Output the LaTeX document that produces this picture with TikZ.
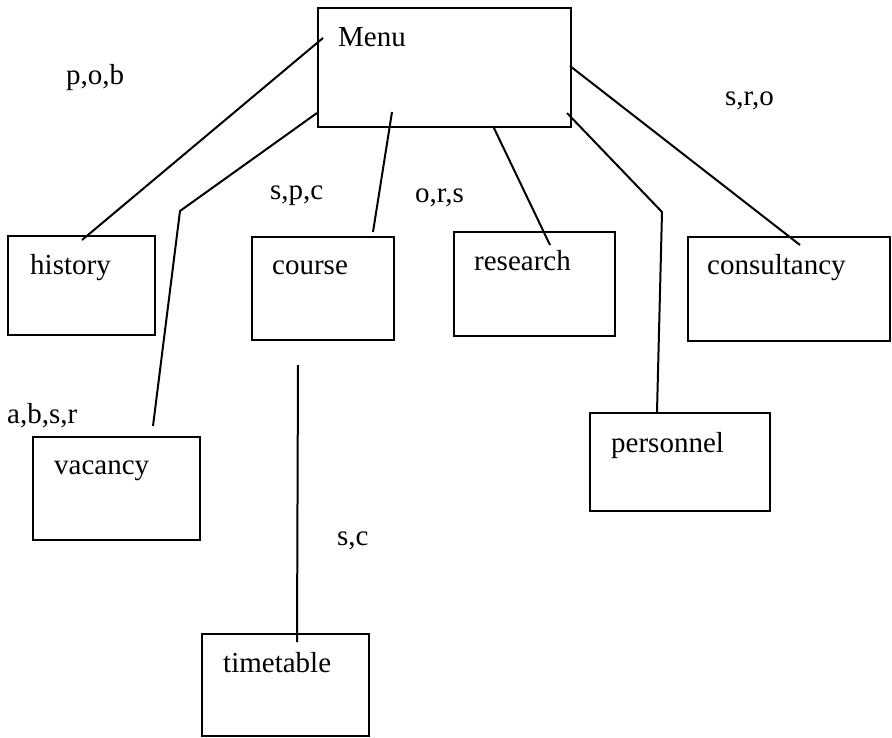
\documentclass[tikz,border=0pt]{standalone}
\usepackage{fontspec}
\setmainfont{Liberation Serif}
\begin{document}
\begin{tikzpicture}[x=1pt,y=-1pt,
  box/.style={draw, line width=2.2pt, rectangle, anchor=north west, inner sep=0pt},
  txt/.style={anchor=base west, inner sep=0pt, font=\fontsize{29}{34}\selectfont},
  conn/.style={line width=2pt}]
\useasboundingbox (0,0) rectangle (892,738);
% boxes
\node[box, minimum width=253pt, minimum height=119pt] (menu) at (317,7) {};
\node[box, minimum width=147pt, minimum height=99pt] (history) at (7,235) {};
\node[box, minimum width=142pt, minimum height=103pt] (course) at (251,236) {};
\node[box, minimum width=161pt, minimum height=104pt] (research) at (453,231) {};
\node[box, minimum width=202pt, minimum height=104pt] (consultancy) at (687,236) {};
\node[box, minimum width=167pt, minimum height=103pt] (vacancy) at (32,436) {};
\node[box, minimum width=180pt, minimum height=98pt] (personnel) at (589,412) {};
\node[box, minimum width=167pt, minimum height=102pt] (timetable) at (201,633) {};
% box texts
\node[txt] (menut) at (338,47) {Menu};
\node[txt] (historyt) at (30,275) {history};
\node[txt] (courset) at (272,275) {course};
\node[txt] (researcht) at (474,271) {research};
\node[txt] (consultancyt) at (707,275) {consultancy};
\node[txt] (vacancyt) at (54,474) {vacancy};
\node[txt] (personnelt) at (611,452) {personnel};
\node[txt] (timetablet) at (223,672) {timetable};
% labels
\node[txt] (l1) at (66,85) {p,o,b};
\node[txt] (l2) at (270,200) {s,p,c};
\node[txt] (l3) at (415,203) {o,r,s};
\node[txt] (l4) at (725,106) {s,r,o};
\node[txt] (l5) at (7,423) {a,b,s,r};
\node[txt] (l6) at (337,545) {s,c};
% connector end points
\coordinate (m1) at (323,38);
\coordinate (m2) at (317,113);
\coordinate (m3) at (392,112);
\coordinate (m4) at (493,126);
\coordinate (m5) at (567,113);
\coordinate (m6) at (570,66);
\coordinate (h1) at (82,240);
\coordinate (v0) at (180,211);
\coordinate (v1) at (153,426);
\coordinate (c1) at (373,232);
\coordinate (r1) at (550,245);
\coordinate (p0) at (662,212);
\coordinate (p1) at (657,412);
\coordinate (k1) at (800,245);
\coordinate (t0) at (298,365);
\coordinate (t1) at (297,642);
% connectors
\draw[conn] (m1) -- (h1);
\draw[conn] (m2) -- (v0) -- (v1);
\draw[conn] (m3) -- (c1);
\draw[conn] (m4) -- (r1);
\draw[conn] (m5) -- (p0) -- (p1);
\draw[conn] (m6) -- (k1);
\draw[conn] (t0) -- (t1);
\end{tikzpicture}
\end{document}
